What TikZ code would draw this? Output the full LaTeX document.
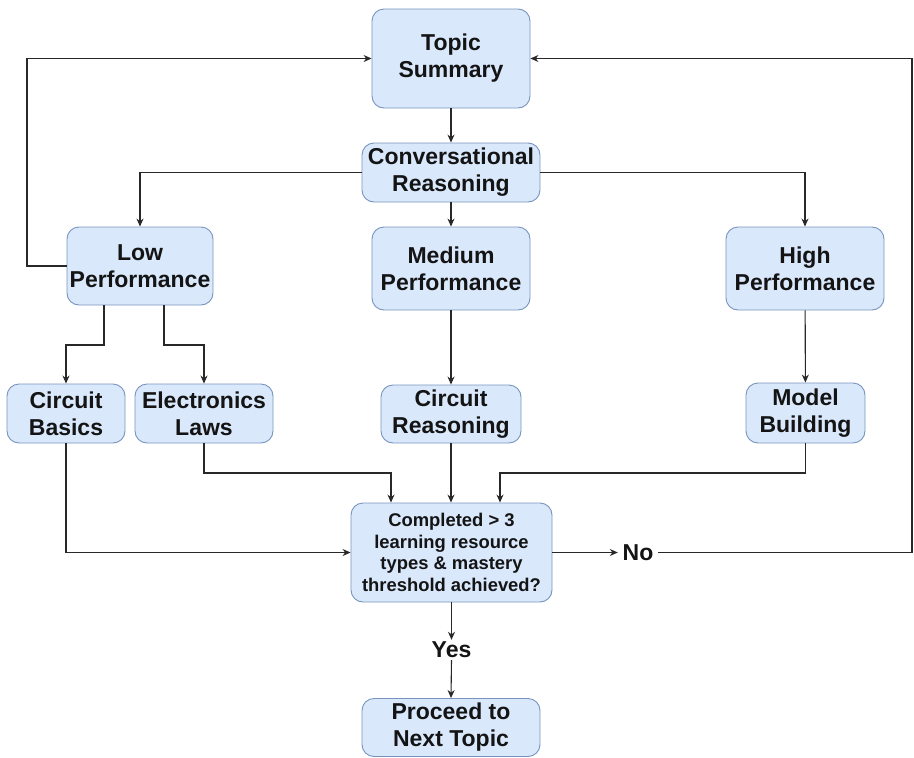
\documentclass[tikz,border=0pt]{standalone}
\usepackage{fontspec}
\setmainfont{Liberation Sans}
\usetikzlibrary{arrows.meta,calc}
\definecolor{boxfill}{RGB}{218,232,252}
\definecolor{boxline}{RGB}{120,148,190}
\definecolor{linec}{RGB}{40,40,40}
\definecolor{txt}{RGB}{20,20,20}
\begin{document}
\begin{tikzpicture}[x=1pt,y=-1pt,
  box/.style={draw=boxline,fill=boxfill,rounded corners=12pt,line width=0.9pt,
    inner sep=0pt,align=center,text=txt,
    font=\fontsize{23}{27}\selectfont\bfseries},
  lbl/.style={inner sep=0pt,text=txt,font=\fontsize{23}{27}\selectfont\bfseries},
  arr/.style={draw=linec,line width=1.1pt,-{Stealth[length=8pt,width=7pt]}},
  ln/.style={draw=linec,line width=1.1pt}]
\useasboundingbox (0,0) rectangle (914,758);
\fill[white] (0,0) rectangle (914,758);

\node[box,minimum width=158,minimum height=99] (top) at (451,58.5) {Topic\\Summary};
\node[box,minimum width=178,minimum height=59] (conv) at (451,172.5) {Conversational\\Reasoning};
\node[box,minimum width=146,minimum height=78] (low) at (140,266) {Low\\Performance};
\node[box,minimum width=158,minimum height=83] (med) at (451,268.5) {Medium\\Performance};
\node[box,minimum width=158,minimum height=83] (high) at (805,268.5) {High\\Performance};
\node[box,minimum width=118,minimum height=59] (cb) at (66,413.5) {Circuit\\Basics};
\node[box,minimum width=138,minimum height=59] (el) at (204,413.5) {Electronics\\Laws};
\node[box,minimum width=140,minimum height=58] (cr) at (451,414) {Circuit\\Reasoning};
\node[box,minimum width=119,minimum height=60] (mb) at (805.5,413) {Model\\Building};
\node[box,minimum width=201,minimum height=99,font=\fontsize{18.4}{21.5}\selectfont\bfseries] (dec) at (451.5,552.5)
  {Completed > 3\\learning resource\\types \& mastery\\threshold achieved?};
\node[box,minimum width=178,minimum height=58] (proc) at (451,727.5) {Proceed to\\Next Topic};
\node[lbl,minimum width=40,minimum height=20] (no) at (638,552.5) {No};
\node[lbl,minimum width=44,minimum height=20] (yes) at (451.5,650) {Yes};

\coordinate (lt) at (27,58.5);
\coordinate (rt) at (912,58.5);
\coordinate (j1) at (391,473);
\coordinate (j2) at (500,473);
\coordinate (l1) at (104,345);
\coordinate (l2) at (164,345);

\draw[arr] (top) -- (conv);
\draw[arr] (conv.west) -| (low.north);
\draw[arr] (conv.east) -| (high.north);
\draw[arr] (conv) -- (med);
\draw[arr] (low.west) -| (lt) -- (top.west);
\draw[arr] (l1 |- low.south) -- (l1) -| (cb.north);
\draw[arr] (l2 |- low.south) -- (l2) -| (el.north);
\draw[arr] (med) -- (cr);
\draw[arr] (high) -- (mb);
\draw[arr] (el.south) |- (j1) -- (j1 |- dec.north);
\draw[arr] (cr) -- (cr.south |- dec.north);
\draw[arr] (mb.south) |- (j2) -- (j2 |- dec.north);
\draw[arr] (cb.south) |- (dec.west);
\draw[arr] (dec.east) -- (no.west);
\draw[arr] (no.east) -- (no.east -| rt) -- (rt) -- (top.east);
\draw[arr] (dec.south) -- (yes.north);
\draw[arr] (yes.south) -- (proc.north);
\end{tikzpicture}
\end{document}
